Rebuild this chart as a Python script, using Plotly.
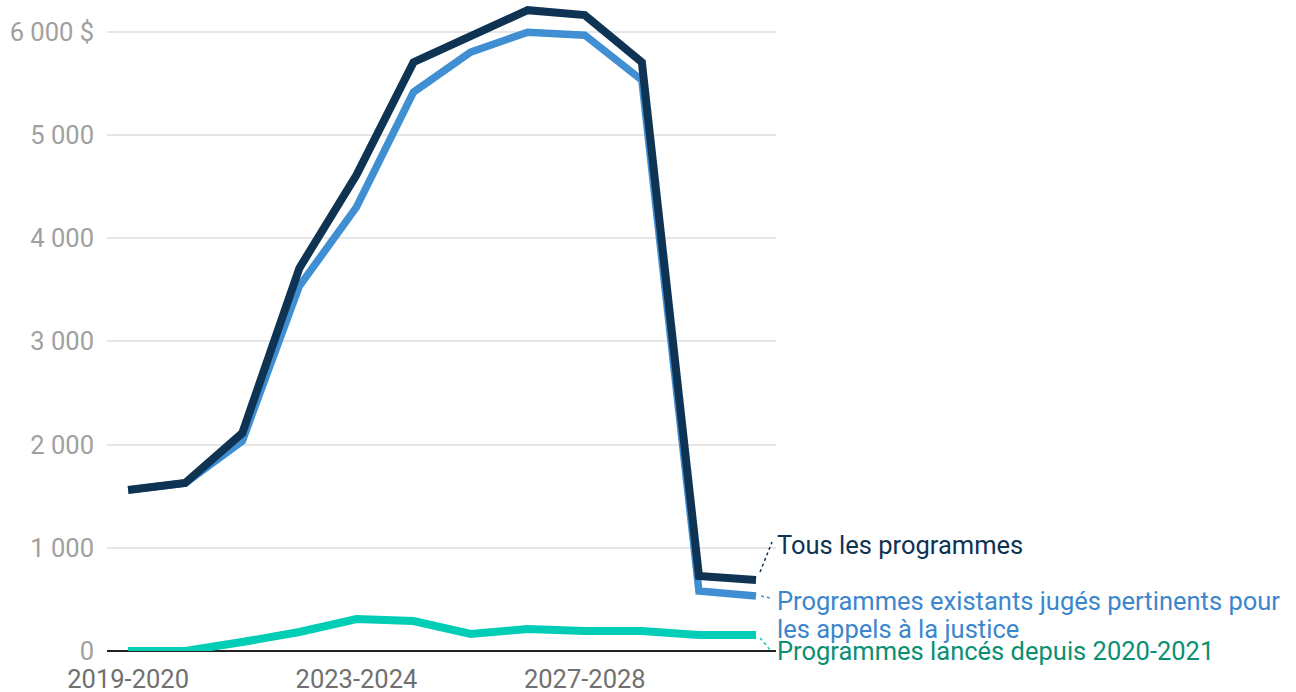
import plotly.graph_objects as go

categories = ["2019-2020", "2020-2021", "2021-2022", "2022-2023", "2023-2024", "2024-2025",
              "2025-2026", "2026-2027", "2027-2028", "2028-2029", "2029-2030", "2030-2031"]
tous = [1560, 1628, 2112, 3711, 4612, 5707, 5960, 6211, 6163, 5707, 727, 688]
existants = [1560, 1628, 2035, 3537, 4302, 5417, 5804, 5998, 5969, 5533, 581, 533]
lances = [0, 0, 87, 184, 310, 291, 165, 213, 194, 194, 155, 155]
tick_idx = [0, 4, 8]
y_ticks = [0, 1000, 2000, 3000, 4000, 5000, 6000]
y_ticktext = ["0", "1 000", "2 000", "3 000", "4 000", "5 000", "6 000 $"]

C_DARK = "#0e3353"
C_BLUE = "#418fd3"
C_TEAL = "#00cdb5"
C_BLUE_TXT = "#3b86cc"
C_TEAL_TXT = "#0b8f72"
FONT = "Roboto"

xs = list(range(len(categories)))
fig = go.Figure()
fig.add_trace(go.Scatter(x=xs, y=lances, mode="lines", line=dict(color=C_TEAL, width=8),
                         hoverinfo="skip", showlegend=False))
fig.add_trace(go.Scatter(x=xs, y=existants, mode="lines", line=dict(color=C_BLUE, width=7.5),
                         hoverinfo="skip", showlegend=False))
fig.add_trace(go.Scatter(x=xs, y=tous, mode="lines", line=dict(color=C_DARK, width=8),
                         hoverinfo="skip", showlegend=False))

last = xs[-1]
# connectors (pixel-sized, anchored on the last data points)
fig.add_shape(type="line", xref="x", yref="y", xsizemode="pixel", ysizemode="pixel",
              xanchor=last, yanchor=tous[-1], x0=4, y0=8, x1=16, y1=38,
              line=dict(color=C_DARK, width=1.5, dash="dot"))
fig.add_shape(type="line", xref="x", yref="y", xsizemode="pixel", ysizemode="pixel",
              xanchor=last, yanchor=existants[-1], x0=5, y0=0, x1=14, y1=-2,
              line=dict(color=C_BLUE, width=1.5, dash="dot"))
fig.add_shape(type="line", xref="x", yref="y", xsizemode="pixel", ysizemode="pixel",
              xanchor=last, yanchor=lances[-1], x0=4, y0=-3, x1=16, y1=-17,
              line=dict(color=C_TEAL, width=1.5, dash="dot"))

def label(text, yval, color):
    fig.add_annotation(x=last, y=yval, xref="x", yref="y", text=text, showarrow=False,
                       xanchor="left", yanchor="middle", xshift=19,
                       font=dict(family=FONT, size=25.5, color=color))

label("Tous les programmes", 1027, C_DARK)
label("Programmes existants jugés pertinents pour", 484, C_BLUE_TXT)
label("les appels à la justice", 213, C_BLUE_TXT)
label("Programmes lancés depuis 2020-2021", 0, C_TEAL_TXT)

fig.update_layout(
    width=1296, height=692,
    margin=dict(l=107, r=520, t=1, b=41),
    plot_bgcolor="white", paper_bgcolor="white",
    font=dict(family=FONT),
    xaxis=dict(range=[-0.37, 11.35], tickvals=tick_idx,
               ticktext=[categories[i] for i in tick_idx],
               showgrid=False, zeroline=False, showline=False, ticks="",
               tickfont=dict(family=FONT, size=25.5, color="#707070"),
               ticklabelstandoff=10, automargin=False),
    yaxis=dict(range=[0, 6300], tickvals=y_ticks, ticktext=y_ticktext,
               showgrid=True, gridcolor="#e6e6e6", gridwidth=2,
               zeroline=True, zerolinecolor="#222222", zerolinewidth=2,
               showline=False, ticks="",
               tickfont=dict(family=FONT, size=25.5, color="#a0a0a0"),
               ticklabelstandoff=12, automargin=False),
)

fig.write_html("out.html", config={"displayModeBar": False},
               post_script="document.body.style.margin='0';document.body.style.overflow='hidden';")
